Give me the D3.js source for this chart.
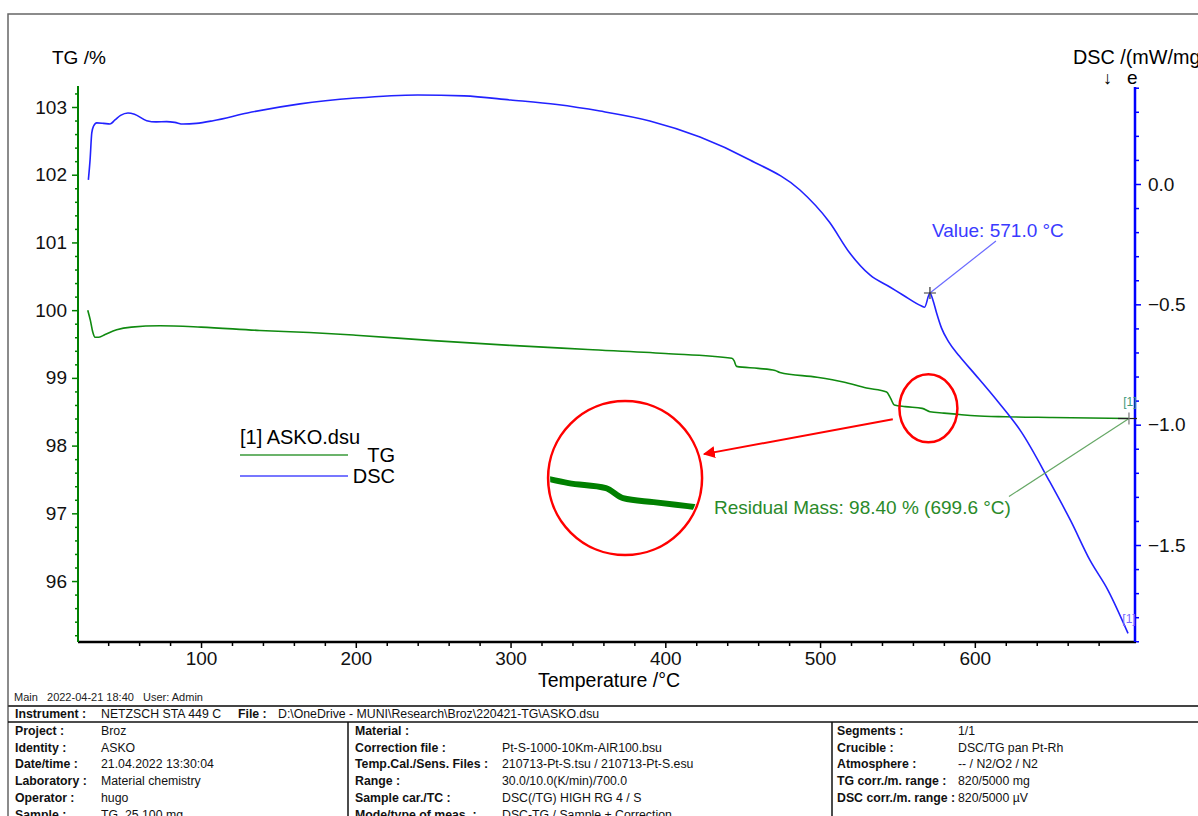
<!DOCTYPE html>
<html>
<head>
<meta charset="utf-8">
<script src="https://cdn.jsdelivr.net/npm/d3@7"></script>
<style>
  body { margin: 0; background: #fff; }
  svg { display: block; font-family: "Liberation Sans", Arial, sans-serif; }
</style>
</head>
<body>
<div id="chart"></div>
<script>
/* TG curve: temperature (°C) and mass (%) */
var tgTemp = [26.8, 28.5, 30, 31.5, 34, 38, 45.5, 55, 73.5, 100, 138, 170, 200, 250, 300, 350, 400, 443, 444.5, 446, 460, 471, 474, 498, 515, 530, 543, 545.5, 548, 555, 566, 571, 580, 590, 600, 620, 650, 699.6];
var tgMass = [100.00, 99.85, 99.68, 99.60, 99.60, 99.64, 99.71, 99.75, 99.77, 99.75, 99.70, 99.67, 99.63, 99.55, 99.48, 99.42, 99.36, 99.29, 99.25, 99.17, 99.14, 99.11, 99.08, 99.01, 98.94, 98.85, 98.79, 98.70, 98.60, 98.575, 98.55, 98.50, 98.48, 98.46, 98.44, 98.425, 98.415, 98.40];

/* DSC curve: temperature (°C) and signal (mW/mg) */
var dscTemp = [27.2, 28.3, 29.4, 30.5, 32.6, 37, 41.2, 44.4, 48, 52.8, 57, 64.9, 71, 77.8, 83, 88.4, 97, 107.8, 130, 164, 200, 240, 270, 300, 330, 357.8, 390, 422.4, 454.7, 487, 506, 519.2, 532.2, 545.1, 553.5, 565.6, 567.5, 571, 572.9, 575.3, 578.5, 583, 590, 600, 615, 630, 648.4, 662, 674.3, 686, 699];
var dscVal = [0.017, 0.10, 0.212, 0.24, 0.254, 0.252, 0.249, 0.266, 0.285, 0.295, 0.29, 0.263, 0.258, 0.259, 0.256, 0.249, 0.252, 0.263, 0.295, 0.333, 0.357, 0.370, 0.366, 0.349, 0.330, 0.303, 0.262, 0.195, 0.100, -0.025, -0.158, -0.287, -0.378, -0.428, -0.461, -0.507, -0.512, -0.453, -0.482, -0.536, -0.599, -0.655, -0.715, -0.79, -0.905, -1.03, -1.237, -1.40, -1.562, -1.687, -1.867];

/* axis ticks */
var xTicks = [100, 200, 300, 400, 500, 600];
var tgTicks = [96, 97, 98, 99, 100, 101, 102, 103];
var dscTicks = [0.0, -0.5, -1.0, -1.5];

/* annotations */
var peakTemp = 571.0, peakDsc = -0.453;
var residualTemp = 699.6, residualMass = 98.40;

/* info table */
var instrumentRow = ["Instrument :", "NETZSCH STA 449 C", "File :", "D:\\OneDrive - MUNI\\Research\\Broz\\220421-TG\\ASKO.dsu"];
var colLeft = [["Project :", "Broz"], ["Identity :", "ASKO"], ["Date/time :", "21.04.2022 13:30:04"], ["Laboratory :", "Material chemistry"], ["Operator :", "hugo"], ["Sample :", "TG, 25.100 mg"]];
var colMid = [["Material :", ""], ["Correction file :", "Pt-S-1000-10Km-AIR100.bsu"], ["Temp.Cal./Sens. Files :", "210713-Pt-S.tsu / 210713-Pt-S.esu"], ["Range :", "30.0/10.0(K/min)/700.0"], ["Sample car./TC :", "DSC(/TG) HIGH RG 4 / S"], ["Mode/type of meas. :", "DSC-TG / Sample + Correction"]];
var colRight = [["Segments :", "1/1"], ["Crucible :", "DSC/TG pan Pt-Rh"], ["Atmosphere :", "-- / N2/O2 / N2"], ["TG corr./m. range :", "820/5000 mg"], ["DSC corr./m. range :", "820/5000 µV"]];

var drawChart = function() {

    var width = 1198, height = 816;
    var plotLeft = 78, plotRight = 1135, plotTop = 86, plotBottom = 642;
    var fontSize = 19;

    var svg = d3.select("#chart").append("svg")
        .attr("width", width)
        .attr("height", height);

    svg.append("rect").attr("width", width).attr("height", height).attr("fill", "#fff");

    /* outer frame */
    svg.append("path")
        .attr("d", "M8," + height + "V14H" + width)
        .attr("fill", "none")
        .attr("stroke", "#666")
        .attr("stroke-width", 1.5);

    /* scales */
    var x = d3.scaleLinear().domain([20.5, 703.5]).range([plotLeft, plotRight]);
    var yTG = d3.scaleLinear().domain([95.1, 103.31]).range([plotBottom, plotTop]);
    var yDSC = d3.scaleLinear().domain([-1.903, 0.403]).range([plotBottom, 87]);

    function styleAxis(g, color) {
        g.select(".domain").remove();
        g.selectAll("line").attr("stroke", color).attr("stroke-width", 1.5);
        g.selectAll("text").attr("fill", "#111").attr("font-size", fontSize);
    }

    /* x axis */
    var xMinor = d3.range(40, 701, 20).filter(function(d) { return d % 100 != 0; });
    svg.append("g")
        .attr("transform", "translate(0," + plotBottom + ")")
        .call(d3.axisBottom(x).tickValues(xMinor).tickSize(4).tickFormat(""))
        .call(styleAxis, "#000");
    svg.append("g")
        .attr("transform", "translate(0," + plotBottom + ")")
        .call(d3.axisBottom(x).tickValues(xTicks).tickSize(6).tickPadding(4).tickFormat(d3.format("d")))
        .call(styleAxis, "#000");

    /* TG axis */
    var tgMinor = d3.range(95.2, 103.3, 0.2).filter(function(d) { return Math.abs(d - Math.round(d)) > 0.01; });
    svg.append("g")
        .attr("transform", "translate(" + plotLeft + ",0)")
        .call(d3.axisLeft(yTG).tickValues(tgMinor).tickSize(3).tickFormat(""))
        .call(styleAxis, "#008000");
    svg.append("g")
        .attr("transform", "translate(" + plotLeft + ",0)")
        .call(d3.axisLeft(yTG).tickValues(tgTicks).tickSize(6).tickPadding(5).tickFormat(d3.format("d")))
        .call(styleAxis, "#008000");

    /* DSC axis */
    var dscMinor = d3.range(-19, 5, 1).map(function(d) { return d / 10; }).filter(function(d) { return Math.abs(d * 2 - Math.round(d * 2)) > 0.01; });
    svg.append("g")
        .attr("transform", "translate(" + plotRight + ",0)")
        .call(d3.axisRight(yDSC).tickValues(dscMinor).tickSize(4).tickFormat(""))
        .call(styleAxis, "#0000ff");
    svg.append("g")
        .attr("transform", "translate(" + plotRight + ",0)")
        .call(d3.axisRight(yDSC).tickValues(dscTicks).tickSize(6).tickPadding(7).tickFormat(d3.format(".1f")))
        .call(styleAxis, "#0000ff");

    /* axis lines */
    svg.append("line").attr("x1", plotLeft).attr("x2", plotRight + 1).attr("y1", plotBottom).attr("y2", plotBottom)
        .attr("stroke", "#000").attr("stroke-width", 2.5);
    svg.append("line").attr("x1", plotLeft).attr("x2", plotLeft).attr("y1", plotTop).attr("y2", plotBottom)
        .attr("stroke", "#008000").attr("stroke-width", 2);
    svg.append("line").attr("x1", plotRight).attr("x2", plotRight).attr("y1", 87).attr("y2", plotBottom)
        .attr("stroke", "#0000ff").attr("stroke-width", 2.5);

    /* axis titles */
    svg.append("text").attr("x", 52).attr("y", 64).attr("font-size", fontSize).text("TG /%");
    svg.append("text").attr("x", 1073).attr("y", 64).attr("font-size", fontSize + 0.8).text("DSC /(mW/mg)");
    svg.append("text").attr("x", 1103).attr("y", 84).attr("font-size", 18).text("\u2193");
    svg.append("text").attr("x", 1127).attr("y", 84).attr("font-size", fontSize).text("e");
    svg.append("text").attr("x", 609).attr("y", 687).attr("text-anchor", "middle").attr("font-size", fontSize + 0.5).text("Temperature /\u00B0C");

    /* curves */
    var tgData = tgTemp.map(function(t, i) { return { t: t, v: tgMass[i] }; });
    var dscData = dscTemp.map(function(t, i) { return { t: t, v: dscVal[i] }; });

    var tgLine = d3.line().x(function(d) { return x(d.t); }).y(function(d) { return yTG(d.v); }).curve(d3.curveMonotoneX);
    var dscLine = d3.line().x(function(d) { return x(d.t); }).y(function(d) { return yDSC(d.v); }).curve(d3.curveMonotoneX);

    svg.append("path").datum(tgData).attr("d", tgLine)
        .attr("fill", "none").attr("stroke", "#108a10").attr("stroke-width", 1.6);
    svg.append("path").datum(dscData).attr("d", dscLine)
        .attr("fill", "none").attr("stroke", "#2222ff").attr("stroke-width", 1.6);

    /* peak annotation */
    var px = x(peakTemp), py = yDSC(peakDsc);
    svg.append("line").attr("x1", px).attr("y1", py).attr("x2", px + 66).attr("y2", py - 52)
        .attr("stroke", "#6a6aff").attr("stroke-width", 1.2);
    svg.append("path").attr("d", "M" + (px - 6) + "," + py + "h12M" + px + "," + (py - 6) + "v12")
        .attr("stroke", "#333").attr("stroke-width", 1.2);
    svg.append("text").attr("x", px + 2).attr("y", py - 56).attr("font-size", fontSize).attr("fill", "#3a3aff")
        .text("Value: " + peakTemp.toFixed(1) + " \u00B0C");

    /* residual mass annotation */
    var rx = x(residualTemp), ry = yTG(residualMass);
    svg.append("line").attr("x1", rx).attr("y1", ry).attr("x2", rx - 120).attr("y2", ry + 78)
        .attr("stroke", "#66a866").attr("stroke-width", 1.2);
    svg.append("line").attr("x1", rx - 11).attr("y1", ry).attr("x2", rx + 8).attr("y2", ry)
        .attr("stroke", "#222").attr("stroke-width", 1.2);
    svg.append("line").attr("x1", rx).attr("y1", ry - 6).attr("x2", rx).attr("y2", ry + 6)
        .attr("stroke", "#777").attr("stroke-width", 1.2);
    svg.append("text").attr("x", rx - 415).attr("y", ry + 95).attr("font-size", fontSize).attr("fill", "#2a8a2a")
        .text("Residual Mass: " + residualMass.toFixed(2) + " % (" + residualTemp.toFixed(1) + " \u00B0C)");

    /* curve end labels */
    var tgEnd = tgData[tgData.length - 1], dscEnd = dscData[dscData.length - 1];
    svg.append("text").attr("x", x(tgEnd.t) + 1).attr("y", yTG(tgEnd.v) - 13).attr("text-anchor", "middle")
        .attr("font-size", 12).attr("fill", "#3a9a7a").text("[1]");
    svg.append("text").attr("x", x(dscEnd.t) + 1).attr("y", yDSC(dscEnd.v) - 10).attr("text-anchor", "middle")
        .attr("font-size", 12).attr("fill", "#7a6aff").text("[1]");

    /* legend */
    var legend = svg.append("g").attr("transform", "translate(240,0)");
    legend.append("text").attr("x", 0).attr("y", 444).attr("font-size", fontSize + 1).text("[1] ASKO.dsu");
    legend.append("line").attr("x1", 0).attr("x2", 108).attr("y1", 455).attr("y2", 455).attr("stroke", "#3a9a3a").attr("stroke-width", 1.3);
    legend.append("line").attr("x1", 0).attr("x2", 108).attr("y1", 476).attr("y2", 476).attr("stroke", "#4a4aff").attr("stroke-width", 1.3);
    legend.append("text").attr("x", 155).attr("y", 462).attr("text-anchor", "end").attr("font-size", fontSize + 1).text("TG");
    legend.append("text").attr("x", 155).attr("y", 483).attr("text-anchor", "end").attr("font-size", fontSize + 1).text("DSC");

    /* red highlight: ellipse, arrow, magnified circle */
    var defs = svg.append("defs");
    defs.append("marker").attr("id", "arrow").attr("viewBox", "0 0 10 10").attr("refX", 9).attr("refY", 5)
        .attr("markerWidth", 6).attr("markerHeight", 6).attr("orient", "auto-start-reverse")
        .append("path").attr("d", "M0,0L10,5L0,10z").attr("fill", "#ff0000");

    svg.append("ellipse").attr("cx", x(570)).attr("cy", yTG(98.55)).attr("rx", 29).attr("ry", 34)
        .attr("fill", "none").attr("stroke", "#ff0000").attr("stroke-width", 2.5);

    var cx = x(374), cy = yTG(97.52), cr = 77;
    svg.append("line").attr("x1", x(547)).attr("y1", yTG(98.39)).attr("x2", cx + cr + 2).attr("y2", cy - 24)
        .attr("stroke", "#ff0000").attr("stroke-width", 2).attr("marker-end", "url(#arrow)");

    defs.append("clipPath").attr("id", "lens").append("circle").attr("cx", cx).attr("cy", cy).attr("r", cr - 2);
    var zx = d3.scaleLinear().domain([552.5, 591.6]).range([cx - 65, cx + 68]);
    var zy = d3.scaleLinear().domain([98.50, 98.55]).range([cy + 20, cy + 10]);
    var zoomData = tgData.filter(function(d) { return d.t >= 548 && d.t <= 600; });
    svg.append("path").datum(zoomData)
        .attr("clip-path", "url(#lens)")
        .attr("d", d3.line().x(function(d) { return zx(d.t); }).y(function(d) { return zy(d.v); }).curve(d3.curveMonotoneX))
        .attr("fill", "none").attr("stroke", "#008000").attr("stroke-width", 6);
    svg.append("circle").attr("cx", cx).attr("cy", cy).attr("r", cr)
        .attr("fill", "none").attr("stroke", "#ff0000").attr("stroke-width", 2.5);

    /* footer */
    svg.append("text").attr("x", 14).attr("y", 701).attr("font-size", 11).attr("fill", "#222")
        .attr("xml:space", "preserve").text("Main   2022-04-21 18:40   User: Admin");

    /* info table */
    var table = svg.append("g").attr("font-size", 12.3).attr("fill", "#111");
    table.append("line").attr("x1", 8).attr("x2", width).attr("y1", 706).attr("y2", 706).attr("stroke", "#444").attr("stroke-width", 2);
    table.append("line").attr("x1", 8).attr("x2", width).attr("y1", 722).attr("y2", 722).attr("stroke", "#111").attr("stroke-width", 1.5);
    [348, 832].forEach(function(vx) {
        table.append("line").attr("x1", vx).attr("x2", vx).attr("y1", 722).attr("y2", height).attr("stroke", "#111").attr("stroke-width", 1.5);
    });

    var instX = [15, 101, 238, 278];
    instrumentRow.forEach(function(t, i) {
        table.append("text").attr("x", instX[i]).attr("y", 718).attr("font-weight", i % 2 == 0 ? "bold" : "normal").text(t);
    });

    function drawColumn(rows, lx, vx) {
        rows.forEach(function(r, i) {
            var yy = 735 + i * 16.7;
            table.append("text").attr("x", lx).attr("y", yy).attr("font-weight", "bold").text(r[0]);
            table.append("text").attr("x", vx).attr("y", yy).text(r[1]);
        });
    }
    drawColumn(colLeft, 15, 101);
    drawColumn(colMid, 355, 502);
    drawColumn(colRight, 837, 958);
}

drawChart();
</script>
</body>
</html>
